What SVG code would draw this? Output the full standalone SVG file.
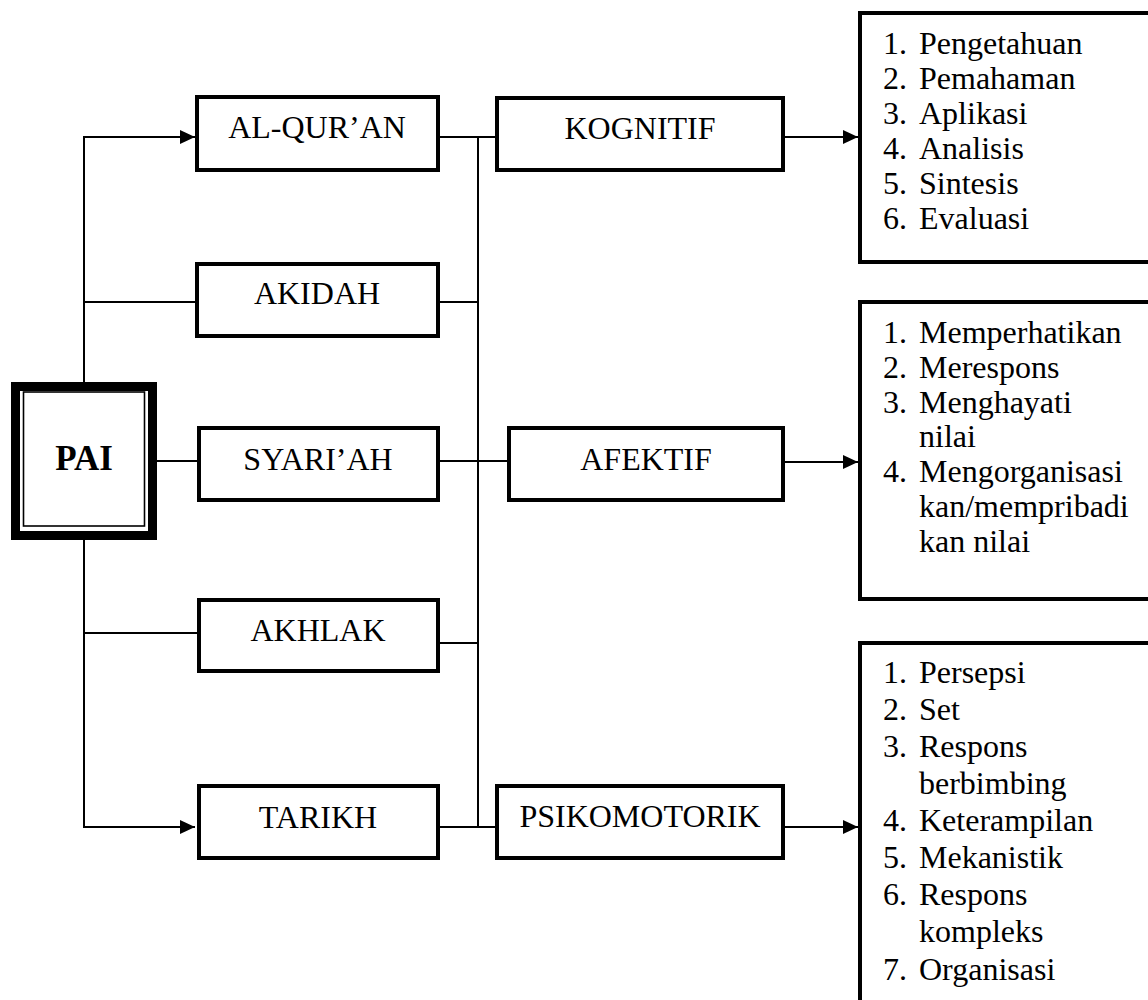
<svg xmlns="http://www.w3.org/2000/svg" width="1148" height="1000" viewBox="0 0 1148 1000">
<style>
  .box { fill: #fff; stroke: #000; stroke-width: 4; }
  .lbl { font-family: "Liberation Serif", "Times New Roman", serif; font-size: 32px; fill: #000; text-anchor: middle; }
  .lst { font-family: "Liberation Serif", "Times New Roman", serif; font-size: 32px; fill: #000; }
  .con { fill: none; stroke: #000; stroke-width: 2; }
</style>
<defs>
  <marker id="arr" markerUnits="userSpaceOnUse" markerWidth="16" markerHeight="16" refX="15" refY="7" orient="auto">
    <path d="M0,0 L15,7 L0,14 Z" fill="#000"/>
  </marker>
</defs>
<rect width="1148" height="1000" fill="#fff"/>

<g id="connectors">
  <path class="con" d="M84,382 V137 H195" marker-end="url(#arr)"/>
  <path class="con" d="M84,540 V827 H195" marker-end="url(#arr)"/>
  <path class="con" d="M84,302 H195"/>
  <path class="con" d="M84,633 H197"/>
  <path class="con" d="M157,461 H197"/>
  <path class="con" d="M478,137 V827"/>
  <path class="con" d="M440,137 H495"/>
  <path class="con" d="M439,302 H478"/>
  <path class="con" d="M439,461 H507"/>
  <path class="con" d="M439,643 H478"/>
  <path class="con" d="M439,827 H495"/>
  <path class="con" d="M785,137 H858" marker-end="url(#arr)"/>
  <path class="con" d="M785,462 H858" marker-end="url(#arr)"/>
  <path class="con" d="M785,827 H858" marker-end="url(#arr)"/>
</g>

<g id="pai">
  <rect x="15.5" y="386.5" width="137" height="149" fill="#fff" stroke="#000" stroke-width="9"/>
  <rect x="23.5" y="392" width="121" height="134" fill="none" stroke="#000" stroke-width="1.6"/>
  <text x="84" y="470" class="lbl" style="font-weight:bold;font-size:35px">PAI</text>
</g>

<g id="alquran">
  <rect class="box" x="197" y="97" width="241" height="73"/>
  <text class="lbl" x="317" y="138">AL-QUR’AN</text>
</g>
<g id="akidah">
  <rect class="box" x="197" y="264" width="241" height="72"/>
  <text class="lbl" x="317" y="304">AKIDAH</text>
</g>
<g id="syariah">
  <rect class="box" x="199" y="428" width="239" height="72"/>
  <text class="lbl" x="318" y="470">SYARI’AH</text>
</g>
<g id="akhlak">
  <rect class="box" x="199" y="600" width="239" height="71"/>
  <text class="lbl" x="318" y="641">AKHLAK</text>
</g>
<g id="tarikh">
  <rect class="box" x="199" y="786" width="239" height="72"/>
  <text class="lbl" x="318" y="828">TARIKH</text>
</g>

<g id="kognitif">
  <rect class="box" x="497" y="98" width="286" height="72"/>
  <text class="lbl" x="640" y="139">KOGNITIF</text>
</g>
<g id="afektif">
  <rect class="box" x="509" y="428" width="274" height="72"/>
  <text class="lbl" x="646" y="470">AFEKTIF</text>
</g>
<g id="psikomotorik">
  <rect class="box" x="497" y="786" width="286" height="72"/>
  <text class="lbl" x="640" y="827">PSIKOMOTORIK</text>
</g>

<g id="list-kognitif">
  <rect class="box" x="860" y="13" width="300" height="249"/>
  <text class="lst" x="883" y="54">1.</text><text class="lst" x="919" y="54">Pengetahuan</text>
  <text class="lst" x="883" y="89">2.</text><text class="lst" x="919" y="89">Pemahaman</text>
  <text class="lst" x="883" y="124">3.</text><text class="lst" x="919" y="124">Aplikasi</text>
  <text class="lst" x="883" y="159">4.</text><text class="lst" x="919" y="159">Analisis</text>
  <text class="lst" x="883" y="194">5.</text><text class="lst" x="919" y="194">Sintesis</text>
  <text class="lst" x="883" y="229">6.</text><text class="lst" x="919" y="229">Evaluasi</text>
</g>

<g id="list-afektif">
  <rect class="box" x="860" y="302" width="300" height="297"/>
  <text class="lst" x="883" y="343">1.</text><text class="lst" x="919" y="343">Memperhatikan</text>
  <text class="lst" x="883" y="378">2.</text><text class="lst" x="919" y="378">Merespons</text>
  <text class="lst" x="883" y="413">3.</text><text class="lst" x="919" y="413">Menghayati</text>
  <text class="lst" x="919" y="447">nilai</text>
  <text class="lst" x="883" y="482">4.</text><text class="lst" x="919" y="482">Mengorganisasi</text>
  <text class="lst" x="919" y="517">kan/mempribadi</text>
  <text class="lst" x="919" y="552">kan nilai</text>
</g>

<g id="list-psikomotorik">
  <rect class="box" x="860" y="643" width="300" height="400"/>
  <text class="lst" x="883" y="683">1.</text><text class="lst" x="919" y="683">Persepsi</text>
  <text class="lst" x="883" y="720">2.</text><text class="lst" x="919" y="720">Set</text>
  <text class="lst" x="883" y="757">3.</text><text class="lst" x="919" y="757">Respons</text>
  <text class="lst" x="919" y="794">berbimbing</text>
  <text class="lst" x="883" y="831">4.</text><text class="lst" x="919" y="831">Keterampilan</text>
  <text class="lst" x="883" y="868">5.</text><text class="lst" x="919" y="868">Mekanistik</text>
  <text class="lst" x="883" y="905">6.</text><text class="lst" x="919" y="905">Respons</text>
  <text class="lst" x="919" y="942">kompleks</text>
  <text class="lst" x="883" y="980">7.</text><text class="lst" x="919" y="980">Organisasi</text>
</g>
</svg>
